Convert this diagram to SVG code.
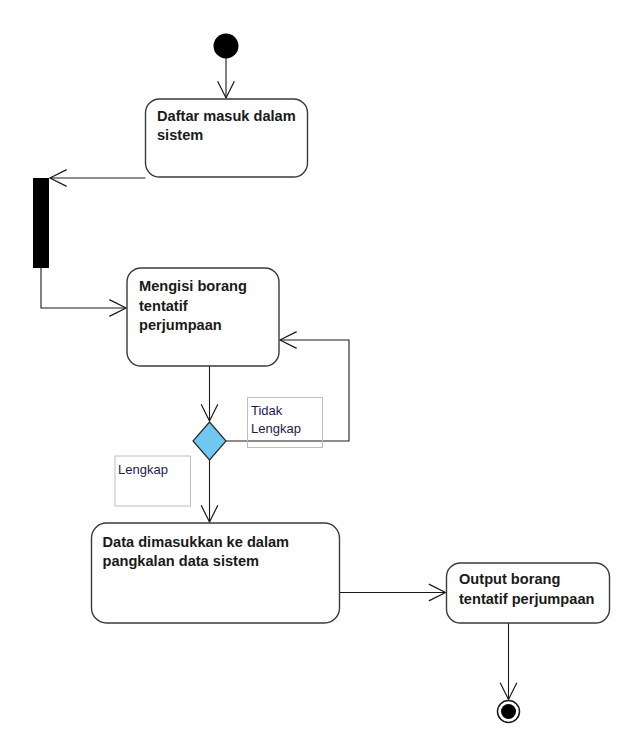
<svg xmlns="http://www.w3.org/2000/svg" width="628" height="740" viewBox="0 0 628 740">
<style>
.act{fill:#fff;stroke:#3a3a3a;stroke-width:1.4}
.t{font-family:"Liberation Sans",Arial,sans-serif;font-weight:bold;font-size:14.6px;fill:#1a1a1a}
.lbl{font-family:"Liberation Sans",Arial,sans-serif;font-size:13px;fill:#1c1c4c}
.lb{fill:none;stroke:#bdbdbd;stroke-width:1}
.c{fill:none;stroke:#1a1a1a;stroke-width:1.1;marker-end:url(#v)}
</style>
<defs>
<marker id="v" markerUnits="userSpaceOnUse" markerWidth="20" markerHeight="20" viewBox="-16 -9 18 18" refX="0" refY="0" orient="auto">
<path d="M-15,-7.5 L0,0 L-15,7.5" fill="none" stroke="#1a1a1a" stroke-width="1.1"/>
</marker>
</defs>
<rect width="628" height="740" fill="#fff"/>
<g id="connectors">
<path class="c" d="M226,58 V98"/>
<path class="c" d="M145.5,178 H50"/>
<path class="c" d="M41,268 V308 H126"/>
<path class="c" d="M209.5,366 V421"/>
<path class="c" d="M226,441 H349 V340 H280"/>
<path class="c" d="M209.5,460 V522"/>
<path class="c" d="M339.5,592.5 H445.5"/>
<path class="c" d="M508.5,623 V699.5"/>
</g>
<g id="start"><circle cx="226" cy="46" r="12.5" fill="#000"/></g>
<g id="daftar">
<rect class="act" x="145.5" y="99" width="162" height="78" rx="14"/>
<text class="t" x="157" y="121">Daftar masuk dalam</text>
<text class="t" x="157" y="140">sistem</text>
</g>
<g id="fork"><rect x="33" y="178" width="16" height="90" fill="#000"/></g>
<g id="mengisi">
<rect class="act" x="127" y="268" width="152" height="98" rx="14"/>
<text class="t" x="139" y="291">Mengisi borang</text>
<text class="t" x="139" y="310.5">tentatif</text>
<text class="t" x="139" y="330">perjumpaan</text>
</g>
<g id="decision">
<polygon points="209.5,422 226,441 209.5,460 193,441" fill="#70C8F0" stroke="#2a2a2a" stroke-width="1.2"/>
</g>
<g id="label-tidak">
<rect class="lb" x="247.5" y="397.5" width="75" height="50"/>
<text class="lbl" x="251" y="414.5">Tidak</text>
<text class="lbl" x="251" y="433">Lengkap</text>
</g>
<g id="label-lengkap">
<rect class="lb" x="115" y="456" width="75.5" height="50"/>
<text class="lbl" x="118" y="473.5">Lengkap</text>
</g>
<g id="data">
<rect class="act" x="91.5" y="523" width="248" height="100" rx="15"/>
<text class="t" x="102.5" y="546.5">Data dimasukkan ke dalam</text>
<text class="t" x="102.5" y="566">pangkalan data sistem</text>
</g>
<g id="output">
<rect class="act" x="446.5" y="563" width="163" height="60" rx="14"/>
<text class="t" x="459" y="584">Output borang</text>
<text class="t" x="459" y="604">tentatif perjumpaan</text>
</g>
<g id="end">
<circle cx="508.5" cy="711.5" r="11" fill="#fff" stroke="#1a1a1a" stroke-width="1.5"/>
<circle cx="508.5" cy="711.5" r="7.5" fill="#000"/>
</g>
</svg>
